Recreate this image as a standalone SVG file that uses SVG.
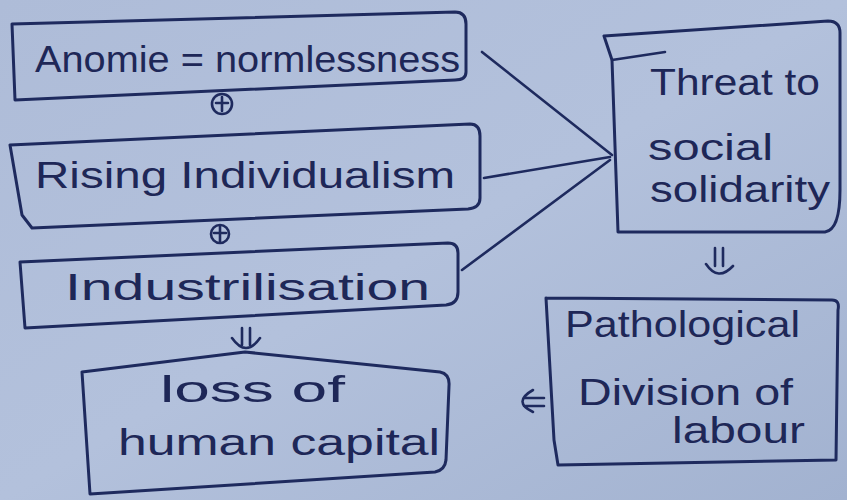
<svg xmlns="http://www.w3.org/2000/svg" width="847" height="500" viewBox="0 0 847 500">
<defs>
<linearGradient id="bg" x1="0" y1="0" x2="1" y2="1">
<stop offset="0" stop-color="#aebcd8"/>
<stop offset="0.5" stop-color="#b3c1dc"/>
<stop offset="1" stop-color="#a2b2d0"/>
</linearGradient>
<style>
.box{fill:none;stroke:#1e2a5e;stroke-width:3;stroke-linejoin:round;stroke-linecap:round}
.ln{fill:none;stroke:#1e2a5e;stroke-width:2.6;stroke-linecap:round;stroke-linejoin:round}
.t{font-family:"Liberation Sans","DejaVu Sans",sans-serif;fill:#1e2757;font-size:36px}
</style>
</defs>
<rect width="847" height="500" fill="url(#bg)"/>

<g id="anomie">
<path class="box" d="M12,24 L455,12 Q466,12 466,24 L466,72 Q466,80 455,80 L15,100 L12,24"/>
<text class="t" x="35" y="72" textLength="425" lengthAdjust="spacingAndGlyphs">Anomie = normlessness</text>
</g>

<g id="plus1">
<circle class="ln" cx="222" cy="104" r="10"/>
<path class="ln" d="M222,97 L222,111 M216,103 L228,103"/>
</g>

<g id="individualism">
<path class="box" d="M10,145 L470,124 Q480,124 480,136 L480,198 Q480,208 468,209 L32,228 L22,215 L10,145"/>
<text class="t" x="35" y="188" textLength="420" lengthAdjust="spacingAndGlyphs">Rising Individualism</text>
</g>

<g id="plus2">
<circle class="ln" cx="220" cy="234" r="9"/>
<path class="ln" d="M220,227 L220,241 M214,233 L226,233"/>
</g>

<g id="industrialisation">
<path class="box" d="M20,262 L448,243 Q458,243 458,253 L458,292 Q458,304 446,305 L25,328 L20,262"/>
<text class="t" x="65" y="300" textLength="365" lengthAdjust="spacingAndGlyphs">Industrilisation</text>
</g>

<g id="loss">
<path class="box" d="M82,372 L245,352 L440,372 Q450,374 449,386 L446,460 Q445,470 435,472 L90,494 L82,372"/>
<text class="t" x="160" y="402" textLength="185" lengthAdjust="spacingAndGlyphs">loss of</text>
<text class="t" x="118" y="455" textLength="322" lengthAdjust="spacingAndGlyphs">human capital</text>
</g>

<g id="threat">
<path class="box" d="M604,36 L828,21 Q840,21 840,33 L840,190 Q840,230 825,232 L618,232 L612,60 L604,36"/>
<path class="ln" d="M612,60 L665,52"/>
<text class="t" x="650" y="95" textLength="170" lengthAdjust="spacingAndGlyphs">Threat to</text>
<text class="t" x="648" y="160" textLength="125" lengthAdjust="spacingAndGlyphs">social</text>
<text class="t" x="650" y="202" textLength="180" lengthAdjust="spacingAndGlyphs">solidarity</text>
</g>

<g id="pathological">
<path class="box" d="M546,298 L832,300 Q840,300 838,310 L836,460 L558,465 L554,440 L546,298"/>
<text class="t" x="565" y="337" textLength="235" lengthAdjust="spacingAndGlyphs">Pathological</text>
<text class="t" x="578" y="405" textLength="215" lengthAdjust="spacingAndGlyphs">Division of</text>
<text class="t" x="672" y="443" textLength="133" lengthAdjust="spacingAndGlyphs">labour</text>
</g>

<g id="connectors">
<path class="ln" d="M482,52 L612,155"/>
<path class="ln" d="M484,178 L610,157"/>
<path class="ln" d="M462,270 L610,160"/>
<path class="ln" d="M242,328 L242,345 M250,328 L250,345 M232,338 Q246,358 260,338"/>
<path class="ln" d="M715,248 L715,266 M723,248 L723,266 M706,264 Q718,282 733,266"/>
<path class="ln" d="M533,390 Q512,402 533,412 M524,398 L544,398 M524,406 L544,406"/>
</g>
</svg>
